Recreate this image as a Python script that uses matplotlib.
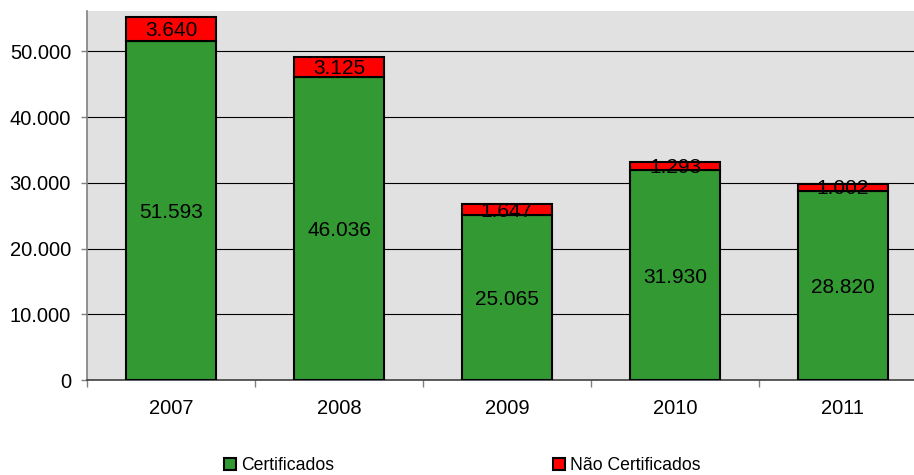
import matplotlib
matplotlib.use("Agg")
import matplotlib.pyplot as plt
from matplotlib.patches import Patch

plt.rcParams['font.family'] = ['Liberation Sans', 'DejaVu Sans']

years = ["2007", "2008", "2009", "2010", "2011"]
certificados = [51593, 46036, 25065, 31930, 28820]
nao_certificados = [3640, 3125, 1647, 1293, 1002]
yticks = [0, 10000, 20000, 30000, 40000, 50000]
ytick_labels = ["0", "10.000", "20.000", "30.000", "40.000", "50.000"]

def fmt(v):
    return f"{v:,}".replace(",", ".")

GREEN = "#339933"
RED = "#FF0000"
BG = "#E1E1E1"

fig = plt.figure(figsize=(9.14, 4.75), dpi=100)
ax = fig.add_axes([87/914, 95/475, 1 - 87/914, (380-11)/475])
ax.set_facecolor(BG)

x = list(range(len(years)))
w = 0.535
for yv in yticks[1:]:
    ax.axhline(yv, color="black", lw=0.8, zorder=1)

ax.bar(x, certificados, width=w, color=GREEN, edgecolor="black", linewidth=1.5, zorder=3)
ax.bar(x, nao_certificados, width=w, bottom=certificados, color=RED,
       edgecolor="black", linewidth=1.5, zorder=3)

for i in x:
    ax.annotate(fmt(certificados[i]), (i, certificados[i] / 2), xytext=(0, -2),
                textcoords="offset pixels", ha="center", va="center",
                fontsize=15, color="black", zorder=5)
    ax.annotate(fmt(nao_certificados[i]), (i, certificados[i] + nao_certificados[i] / 2),
                xytext=(0, -1.5), textcoords="offset pixels", ha="center", va="center",
                fontsize=15, color="black", zorder=5)

ax.set_xlim(-0.5, -0.5 + 827/168)
ax.set_ylim(0, 56150)
ax.set_yticks(yticks)
ax.set_yticklabels(ytick_labels, fontsize=14.5)
ax.set_xticks(x)
ax.set_xticklabels(years, fontsize=14.5)
ax.tick_params(axis="x", length=0, pad=13.5)
ax.set_xticks([i + 0.5 for i in x[:-1]] + [-0.5], minor=True)
ax.tick_params(axis="x", which="minor", length=5, color="#808080", width=1)
ax.tick_params(axis="y", length=4.5, color="#808080", width=1, pad=7)

for s in ["top", "right"]:
    ax.spines[s].set_visible(False)
ax.spines["left"].set_color("#808080")
ax.spines["left"].set_linewidth(1.2)
ax.spines["bottom"].set_color("#404040")
ax.spines["bottom"].set_linewidth(1.2)

labels = ["Certificados", "Não Certificados"]
colors = [GREEN, RED]
legend_x = [224, 553]
for lab, col, lx in zip(labels, colors, legend_x):
    h = Patch(facecolor=col, edgecolor="black", linewidth=1.5, label=lab)
    fig.legend(handles=[h], loc="center left", bbox_to_anchor=(lx/914, 1 - 466/475),
               frameon=False, fontsize=12.7, handlelength=0.68, handleheight=0.68,
               handletextpad=0.3, borderpad=0, borderaxespad=0)

fig.savefig("out.png", dpi=100)
